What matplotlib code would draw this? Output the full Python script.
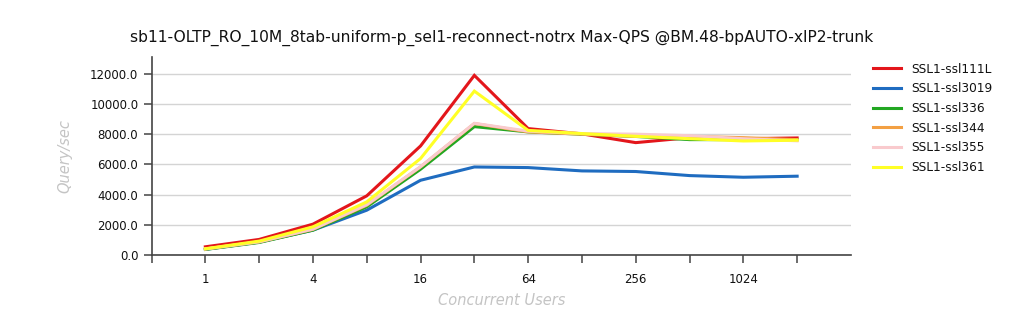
import matplotlib
matplotlib.use("Agg")
import matplotlib.pyplot as plt
from matplotlib.ticker import FixedLocator, FuncFormatter

# Concurrent user counts and Max-QPS per SSL build
users = [1, 2, 4, 8, 16, 32, 64, 128, 256, 512, 1024, 2048]

ssl111L = [548, 1036, 2047, 3920, 7220, 11890, 8370, 8020, 7440, 7770, 7700, 7750]
ssl3019 = [380, 860, 1650, 2970, 4950, 5830, 5790, 5570, 5530, 5260, 5150, 5220]
ssl336 = [375, 835, 1650, 3190, 5680, 8500, 8150, 8000, 7850, 7640, 7640, 7640]
ssl344 = [400, 870, 1700, 3300, 5830, 8700, 8150, 8000, 7850, 7850, 7770, 7640]
ssl355 = [410, 880, 1720, 3330, 5850, 8720, 8200, 8040, 8000, 7900, 7700, 7560]
ssl361 = [420, 925, 1870, 3520, 6390, 10850, 8250, 8040, 7860, 7700, 7550, 7600]

series = [
    ("SSL1-ssl111L", ssl111L, "#e3161b"),
    ("SSL1-ssl3019", ssl3019, "#1f6cc0"),
    ("SSL1-ssl336", ssl336, "#22a722"),
    ("SSL1-ssl344", ssl344, "#f3a043"),
    ("SSL1-ssl355", ssl355, "#f9cacd"),
    ("SSL1-ssl361", ssl361, "#ffff26"),
]

tick_positions = [0.5, 1, 2, 4, 8, 16, 32, 64, 128, 256, 512, 1024, 2048]
tick_labels = {1: "1", 4: "4", 16: "16", 64: "64", 256: "256", 1024: "1024"}

plt.rcParams["font.family"] = ["DejaVu Sans"]

fig = plt.figure(figsize=(10.24, 3.30), dpi=100)
ax = fig.add_axes([0.148, 0.227, 0.683, 0.600])

for name, vals, col in series:
    ax.plot(users, vals, color=col, lw=2.2, label=name, solid_joinstyle="miter")

ax.set_xscale("log", base=2)
ax.set_xlim(0.5, 4096)
ax.set_ylim(0, 13100)
ax.xaxis.set_major_locator(FixedLocator(tick_positions))
ax.xaxis.set_minor_locator(FixedLocator([]))
ax.xaxis.set_major_formatter(FuncFormatter(lambda v, p: tick_labels.get(int(round(v)), "") if v >= 1 else ""))
ax.yaxis.set_major_locator(FixedLocator(range(0, 12001, 2000)))
ax.yaxis.set_major_formatter(FuncFormatter(lambda v, p: f"{v:.1f}"))

ax.grid(axis="y", color="#d4d4d4", lw=1)
ax.set_axisbelow(True)
for s in ("top", "right"):
    ax.spines[s].set_visible(False)
for s in ("left", "bottom"):
    ax.spines[s].set_color("#444444")
    ax.spines[s].set_linewidth(1.2)
ax.tick_params(axis="both", colors="#444444", labelcolor="#111111", labelsize=8.5, length=6, width=1.1)
ax.tick_params(axis="x", pad=7)

ax.set_title("sb11-OLTP_RO_10M_8tab-uniform-p_sel1-reconnect-notrx Max-QPS @BM.48-bpAUTO-xIP2-trunk",
             fontsize=11.2, color="#111111", pad=11)
ax.set_xlabel("Concurrent Users", fontsize=10.5, style="italic", color="#c4c4c4", labelpad=5)
ax.set_ylabel("Query/sec", fontsize=10.5, style="italic", color="#c4c4c4", labelpad=13)

leg = fig.legend(loc="upper left", bbox_to_anchor=(0.842, 0.843), frameon=False,
                 fontsize=8.7, handlelength=2.3, handletextpad=0.9, labelspacing=0.55)
for t in leg.get_texts():
    t.set_color("#111111")

fig.savefig("out.png", dpi=100)
